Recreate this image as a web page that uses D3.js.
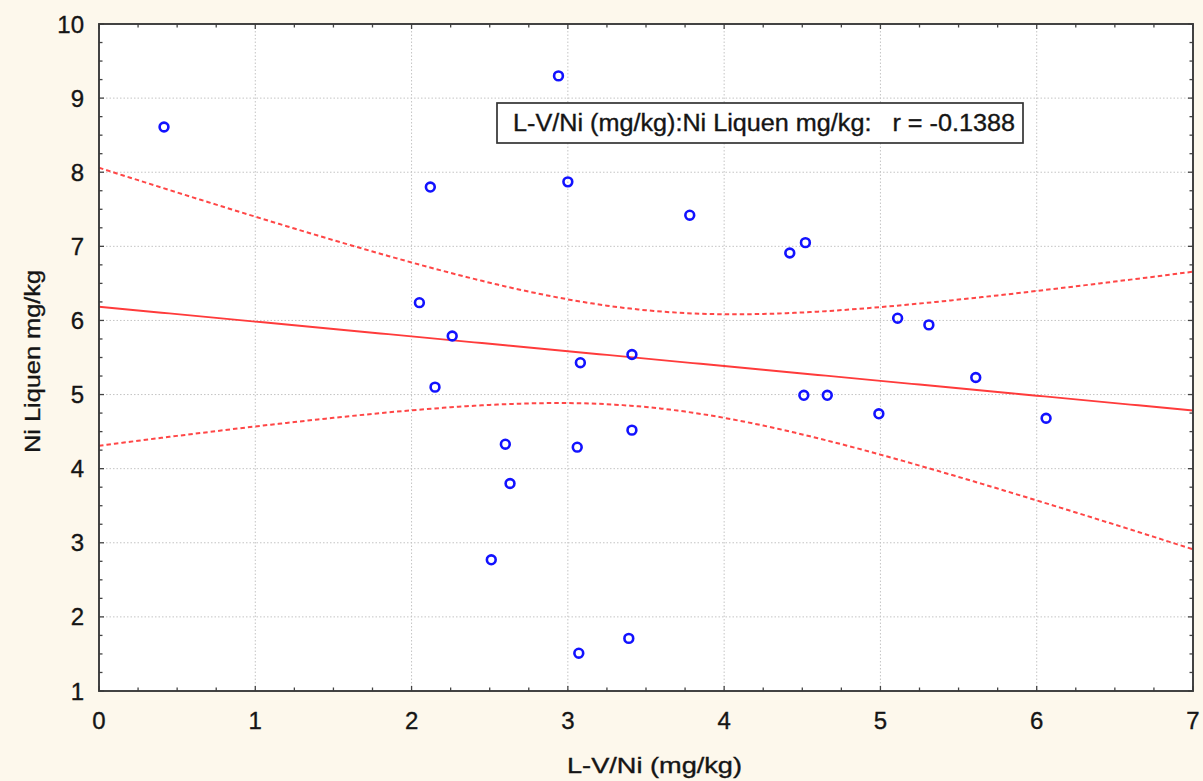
<!DOCTYPE html>
<html>
<head>
<meta charset="utf-8">
<script src="https://cdn.jsdelivr.net/npm/d3@7"></script>
<style>
  html, body { margin: 0; padding: 0; background: #fdf8ec; }
  svg { display: block; }
  text { font-family: Arial, "Liberation Sans", sans-serif; fill: #151515; white-space: pre; }
</style>
</head>
<body>
<svg id="chart" width="1203" height="781"></svg>
<script>
// ---- data ----
const xValues = [0.416, 2.94, 2.12, 3.00, 3.78, 4.42, 4.52, 2.05, 2.26, 2.15, 3.41, 3.08, 5.11,
                 5.31, 5.61, 6.06, 4.51, 4.66, 4.99, 2.60, 3.06, 3.41, 2.63, 2.51, 3.07, 3.39];
const yValues = [8.61, 9.30, 7.80, 7.87, 7.42, 6.91, 7.05, 6.24, 5.79, 5.10, 5.54, 5.43, 6.03,
                 5.94, 5.23, 4.68, 4.99, 4.99, 4.74, 4.33, 4.29, 4.52, 3.80, 2.77, 1.51, 1.71];
const xTicks = [0, 1, 2, 3, 4, 5, 6, 7];
const yTicks = [1, 2, 3, 4, 5, 6, 7, 8, 9, 10];
const xTitle = "L-V/Ni (mg/kg)";
const yTitle = "Ni Liquen mg/kg";
const legendText = "L-V/Ni (mg/kg):Ni Liquen mg/kg:   r = -0.1388";
const bandT = 1.73; // multiplier of the confidence band

// ---- layout ----
const svg = d3.select("#chart");
const pLeft = 99, pRight = 1193, pTop = 24, pBottom = 691;
const x = d3.scaleLinear().domain([0, 7]).range([pLeft, pRight]);
const y = d3.scaleLinear().domain([1, 10]).range([pBottom, pTop]);

svg.append("rect").attr("x", pLeft).attr("y", pTop)
  .attr("width", pRight - pLeft).attr("height", pBottom - pTop).attr("fill", "#ffffff");

// grid
const grid = svg.append("g");
grid.selectAll("line.gx").data(xTicks.slice(1, -1)).join("line")
  .attr("x1", d => x(d)).attr("x2", d => x(d)).attr("y1", pTop).attr("y2", pBottom)
  .attr("stroke", "#c4c4c4").attr("stroke-width", 1).attr("stroke-dasharray", "1.5,2");
grid.selectAll("line.gy").data(yTicks.slice(1, -1)).join("line")
  .attr("y1", d => y(d)).attr("y2", d => y(d)).attr("x1", pLeft).attr("x2", pRight)
  .attr("stroke", "#c4c4c4").attr("stroke-width", 1).attr("stroke-dasharray", "1.5,2");

// regression and confidence band computed from the data
const n = xValues.length;
const mx = d3.mean(xValues), my = d3.mean(yValues);
let sxx = 0, sxy = 0;
for (let i = 0; i < n; i++) { sxx += (xValues[i] - mx) ** 2; sxy += (xValues[i] - mx) * (yValues[i] - my); }
const slope = sxy / sxx, intercept = my - slope * mx;
let sse = 0;
for (let i = 0; i < n; i++) sse += (yValues[i] - (intercept + slope * xValues[i])) ** 2;
const s = Math.sqrt(sse / (n - 2));
const xs = d3.range(0, 7.0001, 0.05);
const band = xs.map(v => {
  const yh = intercept + slope * v;
  const h = bandT * s * Math.sqrt(1 / n + (v - mx) ** 2 / sxx);
  return { x: v, fit: yh, lo: yh - h, hi: yh + h };
});

svg.append("clipPath").attr("id", "plotclip").append("rect")
  .attr("x", pLeft).attr("y", pTop).attr("width", pRight - pLeft).attr("height", pBottom - pTop);
const lines = svg.append("g").attr("clip-path", "url(#plotclip)");
const lineGen = key => d3.line().x(d => x(d.x)).y(d => y(d[key]));
lines.append("path").datum(band).attr("d", lineGen("fit"))
  .attr("fill", "none").attr("stroke", "#ff3b3b").attr("stroke-width", 1.9);
["lo", "hi"].forEach(k => {
  lines.append("path").datum(band).attr("d", lineGen(k))
    .attr("fill", "none").attr("stroke", "#ff4646").attr("stroke-width", 2)
    .attr("stroke-dasharray", "4.5,3");
});

// axes frame with inward ticks
const frame = svg.append("g");
const minorX = d3.range(0, 7.0001, 0.25);
const minorY = d3.range(1, 10.0001, 0.25);
const isMajor = v => Math.abs(v - Math.round(v)) < 1e-6;
const tickColor = "#444";
frame.selectAll("line.bx").data(minorX).join("line")
  .attr("x1", d => x(d)).attr("x2", d => x(d))
  .attr("y1", pBottom).attr("y2", d => pBottom - (isMajor(d) ? 5 : 3.5))
  .attr("stroke", tickColor).attr("stroke-width", 1.3);
frame.selectAll("line.tx").data(minorX).join("line")
  .attr("x1", d => x(d)).attr("x2", d => x(d))
  .attr("y1", pTop).attr("y2", d => pTop + (isMajor(d) ? 5 : 3.5))
  .attr("stroke", tickColor).attr("stroke-width", 1.3);
frame.selectAll("line.ly").data(minorY).join("line")
  .attr("y1", d => y(d)).attr("y2", d => y(d))
  .attr("x1", pLeft).attr("x2", d => pLeft + (isMajor(d) ? 5 : 3.5))
  .attr("stroke", tickColor).attr("stroke-width", 1.3);
frame.selectAll("line.ry").data(minorY).join("line")
  .attr("y1", d => y(d)).attr("y2", d => y(d))
  .attr("x1", pRight).attr("x2", d => pRight - (isMajor(d) ? 5 : 3.5))
  .attr("stroke", tickColor).attr("stroke-width", 1.3);
frame.append("rect").attr("x", pLeft).attr("y", pTop)
  .attr("width", pRight - pLeft).attr("height", pBottom - pTop)
  .attr("fill", "none").attr("stroke", "#3a3a3a").attr("stroke-width", 1.9);

// tick labels
const heavy = sel => sel.attr("stroke", "#151515").attr("stroke-width", 0.35);
svg.append("g").selectAll("text").data(xTicks).join("text")
  .attr("x", d => x(d)).attr("y", 729).attr("text-anchor", "middle")
  .attr("font-size", 24).text(d => d).call(heavy);
svg.append("g").selectAll("text").data(yTicks).join("text")
  .attr("x", 84).attr("y", d => y(d) + 8.5).attr("text-anchor", "end")
  .attr("font-size", 24).text(d => d).call(heavy);

// axis titles
svg.append("text").attr("x", 567).attr("y", 773)
  .attr("font-size", 22.5).attr("textLength", 175).attr("lengthAdjust", "spacingAndGlyphs")
  .text(xTitle).call(heavy);
svg.append("text").attr("transform", "translate(40,453) rotate(-90)")
  .attr("font-size", 22.5).attr("textLength", 183).attr("lengthAdjust", "spacingAndGlyphs")
  .text(yTitle).call(heavy);

// points
svg.append("g").selectAll("circle").data(xValues.map((v, i) => [v, yValues[i]])).join("circle")
  .attr("cx", d => x(d[0])).attr("cy", d => y(d[1])).attr("r", 4.4)
  .attr("fill", "none").attr("stroke", "#1212ff").attr("stroke-width", 2.6);

// legend box
const lg = svg.append("g");
lg.append("rect").attr("x", 497).attr("y", 103).attr("width", 526).attr("height", 40)
  .attr("fill", "#ffffff").attr("stroke", "#333").attr("stroke-width", 1.7);
lg.append("text").attr("x", 513).attr("y", 131)
  .attr("font-size", 23.5).attr("textLength", 502).attr("lengthAdjust", "spacingAndGlyphs")
  .text(legendText).call(heavy);
</script>
</body>
</html>
